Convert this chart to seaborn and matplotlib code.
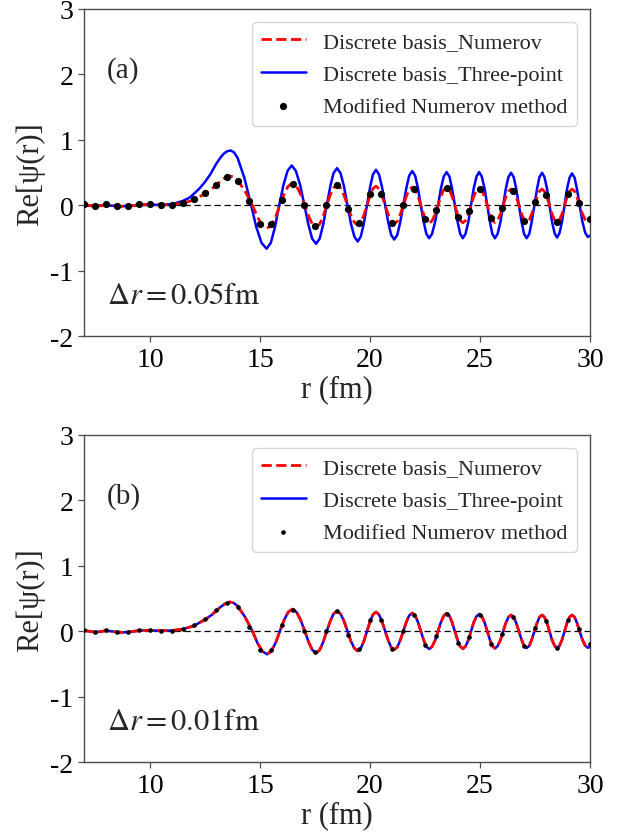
import matplotlib
matplotlib.use("Agg")
import matplotlib.pyplot as plt
import seaborn as sns

# ---------------- data ----------------
legend_labels = ["Discrete basis_Numerov", "Discrete basis_Three-point", "Modified Numerov method"]
panel_tags = ["(a)", "(b)"]
panel_steps = [r"$\Delta r = 0.05\mathrm{fm}$", r"$\Delta r = 0.01\mathrm{fm}$"]
x_ticks = [10, 15, 20, 25, 30]
y_ticks = [-2, -1, 0, 1, 2, 3]

# Modified Numerov method (dots, every 0.5 fm)
r_dot = [7.0, 7.5, 8.0, 8.5, 9.0, 9.5, 10.0, 10.5, 11.0, 11.5, 12.0, 12.5, 13.0, 13.5,
         14.0, 14.5, 15.0, 15.5, 16.0, 16.5, 17.0, 17.5, 18.0, 18.5, 19.0, 19.5, 20.0,
         20.5, 21.0, 21.5, 22.0, 22.5, 23.0, 23.5, 24.0, 24.5, 25.0, 25.5, 26.0, 26.5,
         27.0, 27.5, 28.0, 28.5, 29.0, 29.5, 30.0]
psi_dot = [0.015, -0.015, 0.015, -0.015, -0.015, 0.015, 0.015, 0.012, 0.01, 0.036, 0.092,
           0.19, 0.32, 0.44, 0.37, 0.066, -0.28, -0.29, 0.09, 0.33, 0.0, -0.316, 0.0, 0.305,
           -0.061, -0.265, 0.178, 0.178, -0.265, 0.0, 0.254, -0.214, -0.066, 0.26, -0.178,
           -0.087, 0.244, -0.193, -0.036, 0.219, -0.23, 0.05, 0.163, -0.254, 0.178, 0.036, -0.2]

# Discrete basis, Numerov (red dashed; also the converged curves of panel b)
r_num = [7.0, 7.25, 7.5, 7.75, 8.0, 8.25, 8.5, 8.75, 9.0, 9.25, 9.5, 9.75, 10.0,
         10.5, 11.0, 11.5, 12.0, 12.5, 12.8, 13.0, 13.2, 13.4, 13.62, 13.8,
         13.97, 14.31, 14.66, 14.88, 15.10, 15.32, 15.51, 15.71, 15.90, 16.09, 16.28, 16.47,
         16.66, 16.85, 17.04, 17.21, 17.38, 17.55, 17.71, 17.87, 18.03, 18.19, 18.34, 18.50,
         18.66, 18.82, 18.98, 19.13, 19.29, 19.44, 19.58, 19.72, 19.86, 20.00, 20.13, 20.27,
         20.41, 20.55, 20.69, 20.83, 20.96, 21.10, 21.24, 21.37, 21.51, 21.65, 21.78, 21.92,
         22.05, 22.18, 22.31, 22.44, 22.56, 22.69, 22.82, 22.96, 23.09, 23.22, 23.35, 23.48,
         23.61, 23.73, 23.86, 23.98, 24.10, 24.22, 24.34, 24.47, 24.59, 24.71, 24.84, 24.96,
         25.08, 25.21, 25.33, 25.45, 25.56, 25.68, 25.80, 25.93, 26.05, 26.17, 26.29, 26.41,
         26.53, 26.65, 26.77, 26.89, 27.00, 27.12, 27.24, 27.35, 27.47, 27.59, 27.70, 27.82,
         27.93, 28.05, 28.16, 28.27, 28.39, 28.50, 28.61, 28.73, 28.84, 28.95, 29.07, 29.18,
         29.30, 29.41, 29.53, 29.65, 29.78, 29.90, 30.0]
psi_num = [0.015, 0.0, -0.012, -0.005, 0.012, 0.0, -0.012, -0.015, -0.012, 0.0, 0.012, 0.015, 0.014,
           0.01, 0.012, 0.035, 0.085, 0.18, 0.25, 0.31, 0.37, 0.42, 0.45, 0.435,
           0.39, 0.225, 0.0, -0.175, -0.303, -0.35, -0.303, -0.175, 0.0, 0.17, 0.294, 0.34,
           0.294, 0.17, 0.0, -0.165, -0.286, -0.33, -0.286, -0.165, 0.0, 0.155, 0.268, 0.31,
           0.268, 0.155, 0.0, -0.15, -0.26, -0.30, -0.26, -0.15, 0.0, 0.148, 0.255, 0.295,
           0.255, 0.148, 0.0, -0.14, -0.242, -0.28, -0.242, -0.14, 0.0, 0.14, 0.242, 0.28,
           0.242, 0.14, 0.0, -0.135, -0.234, -0.27, -0.234, -0.135, 0.0, 0.138, 0.238, 0.275,
           0.238, 0.138, 0.0, -0.133, -0.23, -0.265, -0.23, -0.133, 0.0, 0.133, 0.23, 0.265,
           0.23, 0.133, 0.0, -0.13, -0.225, -0.26, -0.225, -0.13, 0.0, 0.125, 0.217, 0.25,
           0.217, 0.125, 0.0, -0.128, -0.221, -0.255, -0.221, -0.128, 0.0, 0.125, 0.217, 0.25,
           0.217, 0.125, 0.0, -0.128, -0.221, -0.255, -0.221, -0.128, 0.0, 0.125, 0.217, 0.25,
           0.217, 0.125, 0.0, -0.125, -0.217, -0.25, -0.24]

# Discrete basis, three-point, dr = 0.05 fm (blue, panel a)
r_3pt = [7.0, 7.5, 8.0, 8.5, 9.0, 9.5, 10.0, 10.5, 11.0, 11.5, 11.8, 12.0, 12.25, 12.5,
         12.75, 13.0, 13.2, 13.35, 13.5, 13.67, 13.82,
         13.98, 14.29, 14.60, 14.83, 15.07, 15.30, 15.49, 15.68, 15.87, 16.06, 16.25, 16.44,
         16.63, 16.83, 17.02, 17.20, 17.37, 17.55, 17.71, 17.87, 18.03, 18.19, 18.34, 18.50,
         18.66, 18.82, 18.98, 19.13, 19.29, 19.44, 19.58, 19.72, 19.86, 20.00, 20.13, 20.27,
         20.41, 20.55, 20.69, 20.83, 20.96, 21.10, 21.24, 21.37, 21.51, 21.65, 21.78, 21.92,
         22.05, 22.18, 22.31, 22.44, 22.56, 22.69, 22.82, 22.96, 23.09, 23.22, 23.35, 23.48,
         23.61, 23.73, 23.86, 23.98, 24.10, 24.22, 24.34, 24.47, 24.59, 24.71, 24.84, 24.96,
         25.08, 25.21, 25.33, 25.45, 25.56, 25.68, 25.80, 25.93, 26.05, 26.17, 26.29, 26.41,
         26.53, 26.65, 26.77, 26.89, 27.00, 27.12, 27.24, 27.35, 27.47, 27.59, 27.70, 27.82,
         27.93, 28.05, 28.16, 28.27, 28.39, 28.50, 28.61, 28.73, 28.84, 28.95, 29.07, 29.18,
         29.30, 29.41, 29.53, 29.65, 29.78, 29.90, 30.0]
psi_3pt = [0.0, -0.01, 0.005, -0.01, -0.01, 0.005, 0.01, 0.01, 0.02, 0.07, 0.12, 0.18, 0.26, 0.36,
           0.48, 0.63, 0.73, 0.79, 0.826, 0.84, 0.81,
           0.727, 0.42, 0.0, -0.33, -0.572, -0.66, -0.572, -0.33, 0.0, 0.305, 0.528, 0.61,
           0.528, 0.305, 0.0, -0.293, -0.507, -0.585, -0.507, -0.293, 0.0, 0.285, 0.494, 0.57,
           0.494, 0.285, 0.0, -0.275, -0.476, -0.55, -0.476, -0.275, 0.0, 0.273, 0.472, 0.545,
           0.472, 0.273, 0.0, -0.26, -0.45, -0.52, -0.45, -0.26, 0.0, 0.263, 0.455, 0.525,
           0.455, 0.263, 0.0, -0.25, -0.433, -0.50, -0.433, -0.25, 0.0, 0.255, 0.442, 0.51,
           0.442, 0.255, 0.0, -0.25, -0.433, -0.50, -0.433, -0.25, 0.0, 0.255, 0.442, 0.51,
           0.442, 0.255, 0.0, -0.25, -0.433, -0.50, -0.433, -0.25, 0.0, 0.25, 0.433, 0.50,
           0.433, 0.25, 0.0, -0.25, -0.433, -0.50, -0.433, -0.25, 0.0, 0.25, 0.433, 0.50,
           0.433, 0.25, 0.0, -0.245, -0.424, -0.49, -0.424, -0.245, 0.0, 0.245, 0.424, 0.49,
           0.424, 0.245, 0.0, -0.24, -0.416, -0.48, -0.46]

assert len(r_num) == len(psi_num), (len(r_num), len(psi_num))
assert len(r_3pt) == len(psi_3pt), (len(r_3pt), len(psi_3pt))
assert len(r_dot) == len(psi_dot), (len(r_dot), len(psi_dot))

# ---------------- styling ----------------
sns.set_style("ticks")
plt.rcParams["font.family"] = "serif"
plt.rcParams["font.serif"] = ["Liberation Serif", "DejaVu Serif"]
plt.rcParams["mathtext.fontset"] = "stix"
plt.rcParams["axes.unicode_minus"] = False

fig = plt.figure(figsize=(6.36, 8.37), dpi=100)
ax_a = fig.add_axes([0.1321, 0.5968, 0.7956, 0.3913])
ax_b = fig.add_axes([0.1321, 0.0881, 0.7956, 0.3910])

panels = [
    (ax_a, r_3pt, psi_3pt, 27),
    (ax_b, r_num, psi_num, 11),
]

for i, (ax, rb, pb, msize) in enumerate(panels):
    ax.axhline(0, color="black", linestyle="--", linewidth=0.9, dashes=(5, 3), zorder=1)
    sns.lineplot(x=rb, y=pb, ax=ax, color="blue", linewidth=1.8, sort=False,
                 label=legend_labels[1], zorder=2)
    sns.lineplot(x=r_num, y=psi_num, ax=ax, color="red", linewidth=2.0, linestyle="--",
                 sort=False, label=legend_labels[0], zorder=3)
    sns.scatterplot(x=r_dot, y=psi_dot, ax=ax, color="black", s=msize, linewidth=0,
                    label=legend_labels[2], zorder=4)

    ax.set_xlim(7, 30)
    ax.set_ylim(-2, 3)
    ax.set_xticks(x_ticks)
    ax.set_yticks(y_ticks)
    ax.set_xticklabels([str(t) for t in x_ticks])
    ax.set_yticklabels([str(t) for t in y_ticks])
    ax.tick_params(axis="both", labelsize=20, length=4, width=0.9, color="0.3",
                   labelcolor="black", direction="out")
    for sp in ax.spines.values():
        sp.set_color("0.3")
        sp.set_linewidth(1.0)
        sp.set_visible(True)
    ax.set_xlabel("r (fm)", fontsize=22, labelpad=2)
    ax.set_ylabel("Re[ψ(r)]", fontsize=22, labelpad=4)

    ax.text(8.05, 2.08, panel_tags[i], fontsize=21, ha="left", va="center")
    ax.text(8.05, -1.38, panel_steps[i], fontsize=22, ha="left", va="center")

    handles, labels = ax.get_legend_handles_labels()
    order = [labels.index(l) for l in legend_labels]
    ax.legend([handles[j] for j in order], [labels[j] for j in order],
              loc="upper right", fontsize=16, frameon=True, handlelength=2.0,
              labelspacing=0.55, borderaxespad=0.6)

fig.savefig("out.png", dpi=100)
